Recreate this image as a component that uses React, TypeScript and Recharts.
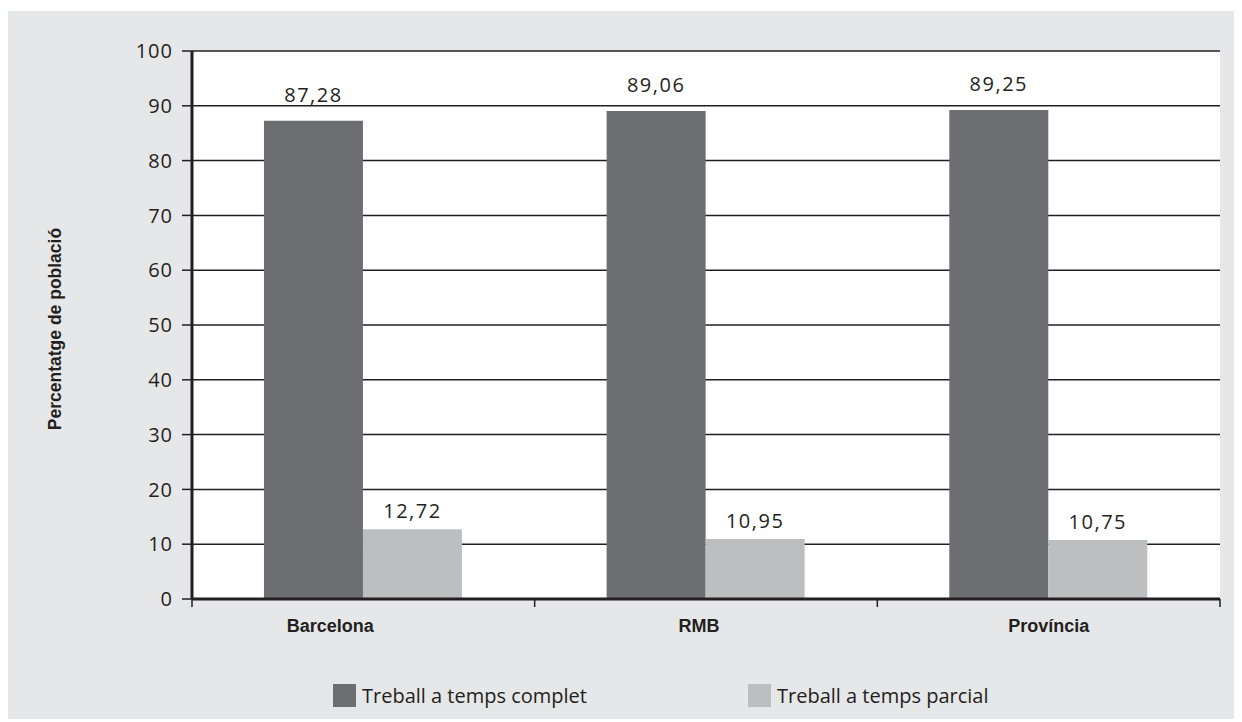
import { BarChart, Bar, XAxis, YAxis, CartesianGrid, LabelList, Legend } from "recharts";

const places = ["Barcelona", "RMB", "Província"];
const fullTime = [87.28, 89.06, 89.25];
const partTime = [12.72, 10.95, 10.75];
const yTicks = [0, 10, 20, 30, 40, 50, 60, 70, 80, 90, 100];
const seriesNames = ["Treball a temps complet", "Treball a temps parcial"];

const DARK = "#6d6e71";
const LIGHT = "#bcbec0";
const INK = "#231f20";
const SANS = "'Open Sans', sans-serif";
const BOLD = "'Liberation Sans', Arial, sans-serif";

const W = 1234;
const H = 711;
const M = { top: 40, right: 22, left: 0, bottom: 38 };
const Y_W = 184;
const BAND = (W - M.left - M.right - Y_W) / places.length;

// the category names are not centred on their groups in the original
const labelShift: Record<string, number> = { Barcelona: -33, RMB: -7, "Província": 0 };

const rows = places.map((place, i) => ({
  place,
  complet: fullTime[i],
  parcial: partTime[i],
}));

const fmt = (v: number) => v.toFixed(2).replace(".", ",");

const LegendBox = () => (
  <div style={{ position: "relative", height: 40, width: W }}>
    {[DARK, LIGHT].map((c, i) => (
      <div
        key={i}
        style={{
          position: "absolute",
          left: i === 0 ? 325 : 740,
          top: 8,
          display: "flex",
          alignItems: "center",
          fontFamily: SANS,
          fontSize: 20,
          color: INK,
          whiteSpace: "nowrap",
        }}
      >
        <span style={{ width: 23, height: 23, background: c, marginRight: 6, display: "inline-block" }} />
        {seriesNames[i]}
      </div>
    ))}
  </div>
);

// category label plus the small ticks on the group edges
const PlaceTick = (p: any) => {
  const name = p.payload.value;
  const last = p.index === places.length - 1;
  const left = p.x - BAND / 2;
  const right = p.x + BAND / 2;
  return (
    <g>
      <line x1={left} x2={left} y1={p.y} y2={p.y + 8} stroke={INK} strokeWidth={1.5} />
      {last && <line x1={right} x2={right} y1={p.y} y2={p.y + 8} stroke={INK} strokeWidth={1.5} />}
      <text
        x={p.x + (labelShift[name] || 0)}
        y={p.y + 33}
        textAnchor="middle"
        fill={INK}
        fontSize={18}
        fontWeight="bold"
        fontFamily={BOLD}
      >
        {name}
      </text>
    </g>
  );
};

export default function App() {
  return (
    <div style={{ position: "relative", top: 3, width: W, height: H, background: "#e6e7e8" }}>
      <BarChart width={W} height={H} data={rows} margin={M} barCategoryGap="21%" barGap={0}>
        <CartesianGrid vertical={false} stroke={INK} strokeWidth={1.5} fill="#ffffff" fillOpacity={1} />
        <XAxis
          dataKey="place"
          height={45}
          axisLine={{ stroke: INK, strokeWidth: 3 }}
          tickLine={false}
          tickSize={0}
          tickMargin={0}
          interval={0}
          tick={PlaceTick}
        />
        <YAxis
          width={Y_W}
          domain={[0, 100]}
          ticks={yTicks}
          interval={0}
          tickSize={10}
          tickMargin={9}
          axisLine={{ stroke: INK, strokeWidth: 3 }}
          tickLine={{ stroke: INK, strokeWidth: 1.5 }}
          tick={{ fill: INK, fontSize: 20, fontFamily: SANS, style: { letterSpacing: 1 } }}
          label={{
            content: (p: any) => {
              const vb = p.viewBox || { y: 40, height: 548 };
              const cy = vb.y + vb.height / 2 + 4;
              return (
                <text
                  x={47}
                  y={cy}
                  transform={`rotate(-90 47 ${cy})`}
                  textAnchor="middle"
                  dominantBaseline="central"
                  fill={INK}
                  fontSize={17.5}
                  fontWeight="bold"
                  fontFamily={BOLD}
                >
                  Percentatge de població
                </text>
              );
            },
          }}
        />
        <Legend
          verticalAlign="bottom"
          content={() => <LegendBox />}
          wrapperStyle={{ left: 0, bottom: 8, width: W }}
        />
        <Bar dataKey="complet" name={seriesNames[0]} fill={DARK} isAnimationActive={false}>
          <LabelList
            dataKey="complet"
            position="top"
            offset={19}
            formatter={(v: any) => fmt(Number(v))}
            fill={INK}
            fontSize={20}
            fontFamily={SANS}
            style={{ letterSpacing: 1.5 }}
          />
        </Bar>
        <Bar dataKey="parcial" name={seriesNames[1]} fill={LIGHT} isAnimationActive={false}>
          <LabelList
            dataKey="parcial"
            position="top"
            offset={11}
            formatter={(v: any) => fmt(Number(v))}
            fill={INK}
            fontSize={20}
            fontFamily={SANS}
            style={{ letterSpacing: 1.5 }}
          />
        </Bar>
      </BarChart>
    </div>
  );
}
